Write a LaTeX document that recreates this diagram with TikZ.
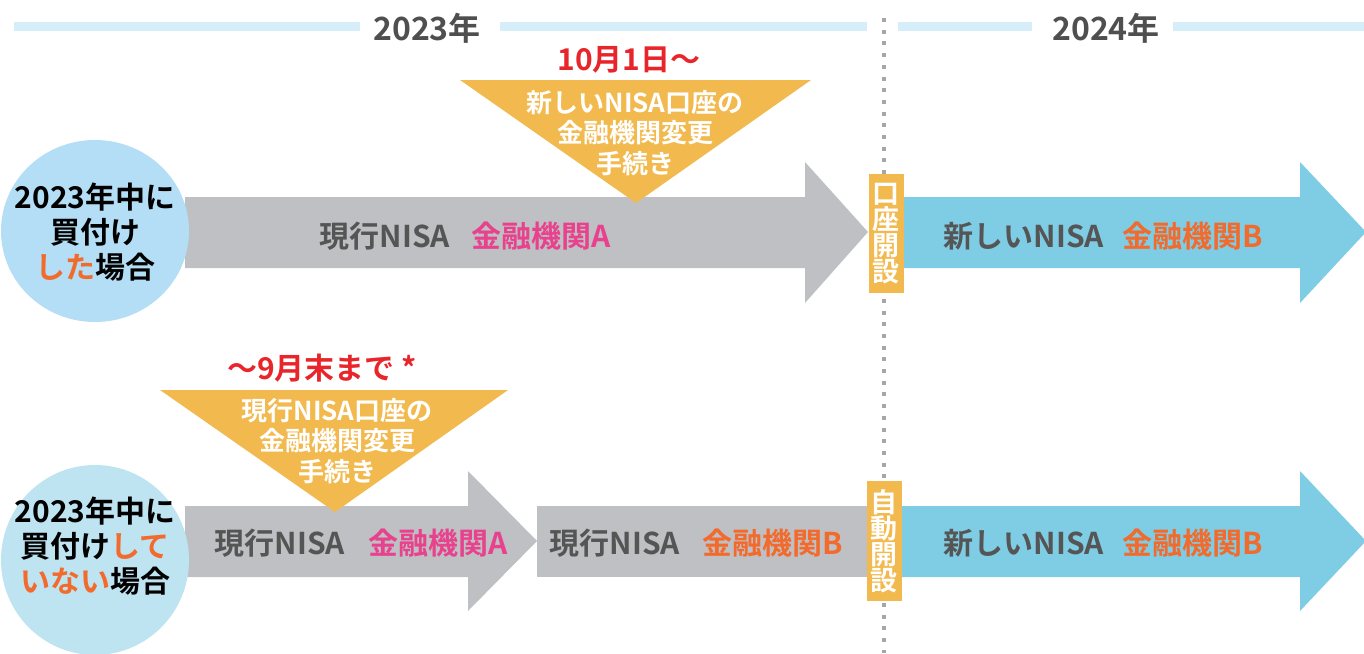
\documentclass[tikz,border=0pt]{standalone}
\usepackage{fontspec}
\setmainfont{Noto Sans CJK JP}[BoldFont={* Bold}]
\definecolor{barblue}{HTML}{D5EEFA}
\definecolor{yeargray}{HTML}{4F4F4F}
\definecolor{textgray}{HTML}{555555}
\definecolor{dotgray}{HTML}{A6A6A6}
\definecolor{arrowgray}{HTML}{BFC0C3}
\definecolor{arrowblue}{HTML}{7ECDE4}
\definecolor{circleblue}{HTML}{B3DEF5}
\definecolor{circlelight}{HTML}{BEE4F2}
\definecolor{triorange}{HTML}{F2BA4E}
\definecolor{pinkA}{HTML}{E8428E}
\definecolor{orangeB}{HTML}{F26A2C}
\definecolor{datered}{HTML}{E8252A}

\begin{document}
\begin{tikzpicture}[x=0.5pt, y=-0.5pt,
  bigtext/.style={font=\bfseries\fontsize{15}{17.5}\selectfont},
  yeartext/.style={font=\bfseries\fontsize{16}{18}\selectfont, text=yeargray},
  nisatext/.style={bigtext, text=textgray},
  banktext/.style={bigtext, text=#1},
  datetext/.style={bigtext, text=datered},
  circletext/.style={bigtext, align=center},
  tritext/.style={font=\bfseries\fontsize{13}{15.25}\selectfont, text=white, align=center},
  openbox/.style={fill=triorange, text=white, inner sep=0pt, align=center,
    minimum width=17.5pt, minimum height=59.5pt, font=\bfseries\fontsize{13.5}{13}\selectfont}]
\useasboundingbox (0,0) rectangle (1364,653);
\draw[line width=4.5pt, barblue] (14,26) -- (360,26) (500,26) -- (867,26) (898,26) -- (1032,26) (1173,26) -- (1364,26);
\node[yeartext] (y2023) at (427,28) {2023年};
\node[yeartext] (y2024) at (1106,28) {2024年};
\draw[dotgray, line width=2pt, dash pattern=on 2pt off 3.85pt] (884,18) -- (884,653);

\fill[arrowgray] (185,197) -- (805,197) -- (805,162) -- (868,232) -- (805,303) -- (805,268) -- (185,268) -- cycle;
\fill[arrowblue] (903,197) -- (1300,197) -- (1300,162) -- (1366,232) -- (1300,303) -- (1300,268) -- (903,268) -- cycle;
\fill[circleblue] (95,231) ellipse (47pt and 45.5pt);
\fill[triorange] (460,80) -- (811,80) -- (636,203) -- cycle;
\node[circletext] (buy) at (95,232) {2023年中に\\買付け\\{\color{orangeB}した}場合};
\node[datetext] (oct) at (629,60) {10月1日～};
\node[tritext] (newchange) at (635,133) {新しいNISA口座の\\金融機関変更\\手続き};
\node[nisatext] (nisaA) at (385,236) {現行NISA};
\node[banktext=pinkA] (bankA) at (541,236) {金融機関A};
\node[nisatext] (newnisa) at (1024,236) {新しいNISA};
\node[banktext=orangeB] (newbank) at (1193,236) {金融機関B};
\node[openbox] (open) at (886,233.5) {口\\座\\開\\設};

\fill[arrowgray] (185,506) -- (468,506) -- (468,471) -- (537,541) -- (468,611) -- (468,577) -- (185,577) -- cycle;
\fill[arrowgray] (537,506) rectangle (867,577);
\fill[arrowblue] (902,506) -- (1300,506) -- (1300,471) -- (1366,541) -- (1300,611) -- (1300,577) -- (902,577) -- cycle;
\fill[circlelight] (95,560) ellipse (47pt and 47.5pt);
\fill[triorange] (160,390) -- (508,390) -- (335,512) -- cycle;
\node[circletext] (nobuy) at (95,546) {2023年中に\\買付け{\color{orangeB}して}\\{\color{orangeB}いない}場合};
\node[datetext] (sep) at (322,368) {～9月末まで *};
\node[tritext] (curchange) at (337,441) {現行NISA口座の\\金融機関変更\\手続き};
\node[nisatext] (curnisa) at (280,543) {現行NISA};
\node[banktext=pinkA] (curbank) at (438,543) {金融機関A};
\node[nisatext] (movednisa) at (615,543) {現行NISA};
\node[banktext=orangeB] (movedbank) at (773,543) {金融機関B};
\node[nisatext] (autonisa) at (1024,543) {新しいNISA};
\node[banktext=orangeB] (autobank) at (1193,543) {金融機関B};
\node[openbox, minimum height=60pt] (auto) at (884,541) {自\\動\\開\\設};
\end{tikzpicture}
\end{document}
